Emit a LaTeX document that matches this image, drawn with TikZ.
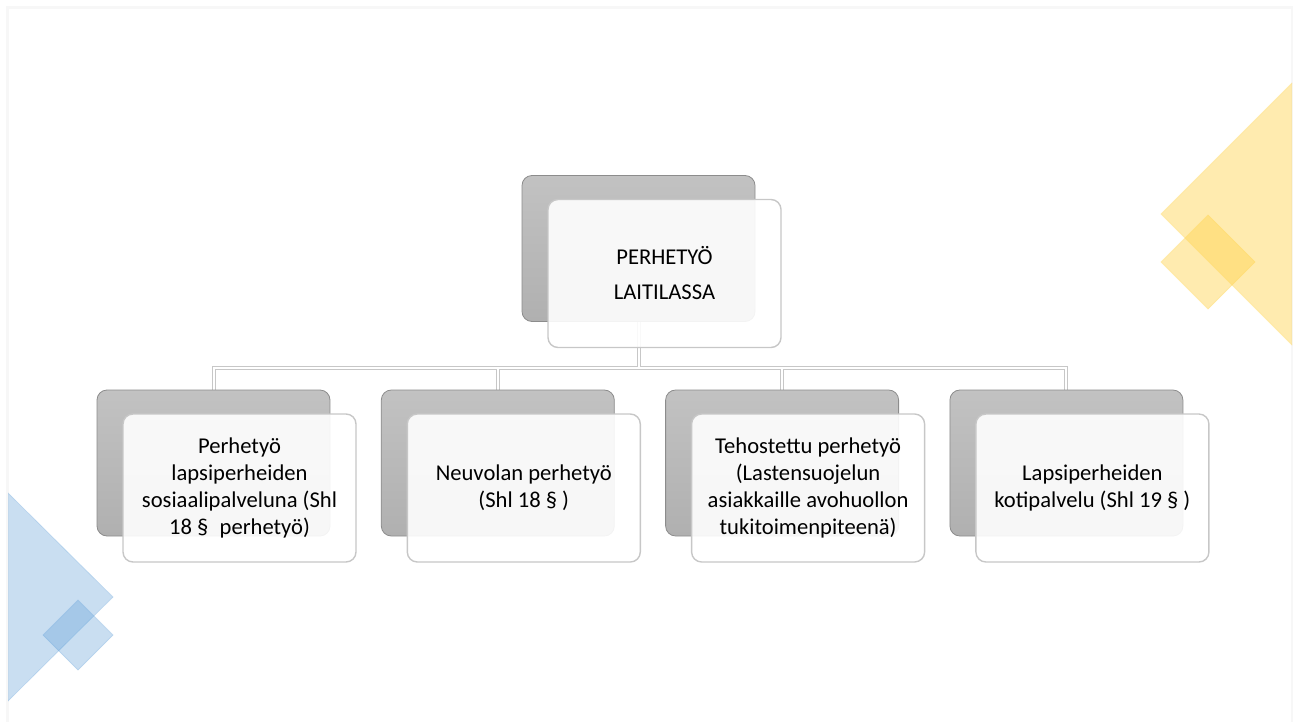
\documentclass[tikz,border=0pt]{standalone}
\usepackage{fontspec}
\setmainfont{Carlito}
\usetikzlibrary{positioning, calc}
\definecolor{decoyellow}{RGB}{255,211,77}
\definecolor{decoblue}{RGB}{91,155,213}
\tikzset{
	node distance = 25.25pt,
	backbox/.style = {
		rectangle,
		rounded corners = 5pt,
		minimum width = 116.5pt,
		minimum height = 73pt,
		draw = black!45,
		top color = black!24,
		bottom color = black!31
	},
	frontbox/.style = {
		rectangle,
		rounded corners = 5pt,
		minimum width = 116.5pt,
		minimum height = 74pt,
		draw = black!22,
		line width = 0.7pt,
		fill = white,
		fill opacity = 0.9,
		text opacity = 1,
		align = center,
		font = \fontsize{11.3}{13.5}\selectfont
	},
	link/.style = {
		draw = black!22,
		line width = 0.5pt,
		double = white,
		double distance = 1pt
	},
	yellowdeco/.style = {
		fill = decoyellow,
		fill opacity = 0.45,
		draw = decoyellow,
		draw opacity = 0.3
	},
	bluedeco/.style = {
		fill = decoblue,
		fill opacity = 0.33,
		draw = decoblue,
		draw opacity = 0.25
	}
}
\pgfdeclarelayer{background}
\pgfsetlayers{background,main}

\begin{document}
\begin{tikzpicture}[x=0.5pt, y=-0.5pt]
		\useasboundingbox (0,0) rectangle (1293,722);
		\draw[black!3, line width=1.5pt] (7,722) -- (7,8) -- (1292,8) -- (1292,722);

		% corner decorations
		\begin{scope}
			\clip (8,8) rectangle (1292,722);
			\filldraw[yellowdeco] (1161,214) -- (1292,83) -- (1423,214) -- (1292,345) -- cycle;
			\filldraw[yellowdeco] (1161,262) -- (1208,215) -- (1255,262) -- (1208,309) -- cycle;
			\filldraw[bluedeco] (-97,597) -- (8,493) -- (113,597) -- (8,701) -- cycle;
			\filldraw[bluedeco] (43,635) -- (78,600) -- (113,635) -- (78,670) -- cycle;
		\end{scope}

		\node[backbox]                (T)  at (638.5,248.5) {};
		\node[backbox]                (C1) at (213.5,463) {};
		\node[backbox, right = of C1] (C2) {};
		\node[backbox, right = of C2] (C3) {};
		\node[backbox, right = of C3] (C4) {};

		\node[frontbox, font = \fontsize{11.3}{17.5}\selectfont] (TF) at ([shift={(26,25)}]T.center) {PERHETYÖ\\LAITILASSA};
		\node[frontbox] (C1F) at ([shift={(26,25)}]C1.center) {Perhetyö\\lapsiperheiden\\sosiaalipalveluna (Shl\\18 §\enspace perhetyö)};
		\node[frontbox] (C2F) at ([shift={(26,25)}]C2.center) {Neuvolan perhetyö\\(Shl 18 § )};
		\node[frontbox] (C3F) at ([shift={(26,25)}]C3.center) {Tehostettu perhetyö\\(Lastensuojelun\\asiakkaille avohuollon\\tukitoimenpiteenä)};
		\node[frontbox] (C4F) at ([shift={(26,25)}]C4.center) {Lapsiperheiden\\kotipalvelu (Shl 19 § )};

		\begin{pgfonlayer}{background}
			\coordinate (bus) at (0,368);
			\draw[link] (T.south) -- (T |- bus)
				(C1.north) |- (C4 |- bus) -- (C4.north)
				(C2.north) -- (C2 |- bus)
				(C3.north) -- (C3 |- bus);
		\end{pgfonlayer}

	\end{tikzpicture}
\end{document}
